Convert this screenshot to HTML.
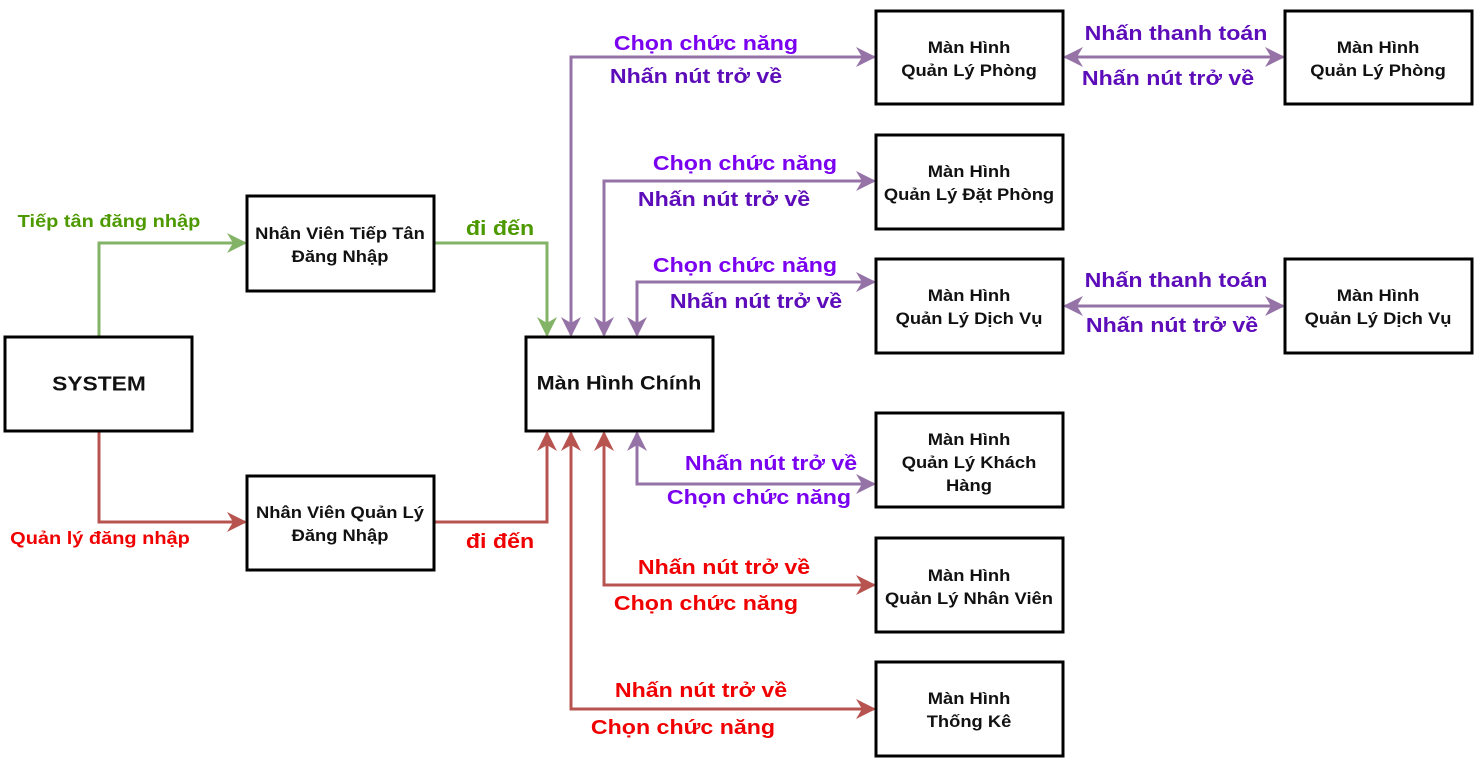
<!DOCTYPE html>
<html><head><meta charset="utf-8"><style>
html,body{margin:0;padding:0;background:#fff;width:1483px;height:764px;overflow:hidden}
svg text{font-family:"Liberation Sans","DejaVu Sans",sans-serif;font-weight:bold;dominant-baseline:central;text-anchor:middle}
.b{font-size:17px;fill:#111}
.l{font-size:20px}
.p{fill:#7a00f0}.pd{fill:#5c0cb8}.g{fill:#4d9900}.r{fill:#f00000}
rect{fill:#fff;stroke:#000;stroke-width:3}
.lp{stroke:#9673a6;stroke-width:3;fill:none}
.lg{stroke:#82b366;stroke-width:3;fill:none}
.lr{stroke:#b85450;stroke-width:3;fill:none}
</style></head><body>
<svg width="1483" height="764" xmlns="http://www.w3.org/2000/svg">
<defs>
<marker id="ap" markerWidth="20" markerHeight="20" refX="9" refY="5" orient="auto-start-reverse" markerUnits="userSpaceOnUse" viewBox="0 0 10 10"><path d="M0,0 L10,5 L0,10 L3,5z" fill="#9673a6"/></marker>
<marker id="ag" markerWidth="20" markerHeight="20" refX="9" refY="5" orient="auto-start-reverse" markerUnits="userSpaceOnUse" viewBox="0 0 10 10"><path d="M0,0 L10,5 L0,10 L3,5z" fill="#82b366"/></marker>
<marker id="ar" markerWidth="20" markerHeight="20" refX="9" refY="5" orient="auto-start-reverse" markerUnits="userSpaceOnUse" viewBox="0 0 10 10"><path d="M0,0 L10,5 L0,10 L3,5z" fill="#b85450"/></marker>
</defs>
<path class="lg" d="M99,337 V243 H245" marker-end="url(#ag)"/>
<path class="lg" d="M434,243 H547 V335" marker-end="url(#ag)"/>
<path class="lr" d="M99,431 V522 H245" marker-end="url(#ar)"/>
<path class="lr" d="M434,522 H547 V433" marker-end="url(#ar)"/>
<path class="lp" d="M571,335 V57 H874" marker-start="url(#ap)" marker-end="url(#ap)"/>
<path class="lp" d="M604,335 V181 H874" marker-start="url(#ap)" marker-end="url(#ap)"/>
<path class="lp" d="M637,335 V282 H874" marker-start="url(#ap)" marker-end="url(#ap)"/>
<path class="lp" d="M637,433 V484 H874" marker-start="url(#ap)" marker-end="url(#ap)"/>
<path class="lr" d="M604,433 V585 H874" marker-start="url(#ar)" marker-end="url(#ar)"/>
<path class="lr" d="M571,433 V709 H874" marker-start="url(#ar)" marker-end="url(#ar)"/>
<path class="lp" d="M1065,57 H1283" marker-start="url(#ap)" marker-end="url(#ap)"/>
<path class="lp" d="M1065,306 H1283" marker-start="url(#ap)" marker-end="url(#ap)"/>
<rect x="5" y="337" width="187" height="94"/>
<rect x="247" y="196" width="187" height="95"/>
<rect x="247" y="476" width="187" height="94"/>
<rect x="526" y="337" width="187" height="94"/>
<rect x="876" y="11" width="187" height="93"/>
<rect x="876" y="135" width="187" height="94"/>
<rect x="876" y="259" width="187" height="94"/>
<rect x="876" y="413" width="187" height="94"/>
<rect x="876" y="538" width="187" height="94"/>
<rect x="876" y="662" width="187" height="94"/>
<rect x="1285" y="11" width="187" height="93"/>
<rect x="1285" y="259" width="187" height="94"/>
<text class="b" transform="translate(99,384) scale(1.14,1)" style="font-size:20px">SYSTEM</text>
<text class="b" transform="translate(340,233) scale(1.08,1)">Nhân Viên Tiếp Tân</text><text class="b" transform="translate(340,256) scale(1.08,1)">Đăng Nhập</text>
<text class="b" transform="translate(340,512) scale(1.08,1)">Nhân Viên Quản Lý</text><text class="b" transform="translate(340,535) scale(1.08,1)">Đăng Nhập</text>
<text class="b" transform="translate(619,384) scale(1.14,1)" style="font-size:19px">Màn Hình Chính</text>
<text class="b" transform="translate(969,47) scale(1.08,1)">Màn Hình</text><text class="b" transform="translate(969,70) scale(1.08,1)">Quản Lý Phòng</text>
<text class="b" transform="translate(969,171) scale(1.08,1)">Màn Hình</text><text class="b" transform="translate(969,194) scale(1.08,1)">Quản Lý Đặt Phòng</text>
<text class="b" transform="translate(969,295) scale(1.08,1)">Màn Hình</text><text class="b" transform="translate(969,318) scale(1.08,1)">Quản Lý Dịch Vụ</text>
<text class="b" transform="translate(969,439) scale(1.08,1)">Màn Hình</text><text class="b" transform="translate(969,462) scale(1.08,1)">Quản Lý Khách</text><text class="b" transform="translate(969,485) scale(1.08,1)">Hàng</text>
<text class="b" transform="translate(969,575) scale(1.08,1)">Màn Hình</text><text class="b" transform="translate(969,598) scale(1.08,1)">Quản Lý Nhân Viên</text>
<text class="b" transform="translate(969,698) scale(1.08,1)">Màn Hình</text><text class="b" transform="translate(969,721) scale(1.08,1)">Thống Kê</text>
<text class="b" transform="translate(1378,47) scale(1.08,1)">Màn Hình</text><text class="b" transform="translate(1378,70) scale(1.08,1)">Quản Lý Phòng</text>
<text class="b" transform="translate(1378,295) scale(1.08,1)">Màn Hình</text><text class="b" transform="translate(1378,318) scale(1.08,1)">Quản Lý Dịch Vụ</text>
<text class="l g" transform="translate(109,222) scale(1.11,1)" style="font-size:18px">Tiếp tân đăng nhập</text>
<text class="l g" transform="translate(500,228) scale(1.16,1)">đi đến</text>
<text class="l r" transform="translate(100,539) scale(1.11,1)" style="font-size:18px">Quản lý đăng nhập</text>
<text class="l r" transform="translate(500,541) scale(1.16,1)">đi đến</text>
<text class="l p" transform="translate(706,43) scale(1.16,1)">Chọn chức năng</text>
<text class="l pd" transform="translate(696,76) scale(1.16,1)">Nhấn nút trở về</text>
<text class="l p" transform="translate(745,163) scale(1.16,1)">Chọn chức năng</text>
<text class="l pd" transform="translate(724,199) scale(1.16,1)">Nhấn nút trở về</text>
<text class="l p" transform="translate(745,265) scale(1.16,1)">Chọn chức năng</text>
<text class="l pd" transform="translate(756,301) scale(1.16,1)">Nhấn nút trở về</text>
<text class="l p" transform="translate(771,463) scale(1.16,1)">Nhấn nút trở về</text>
<text class="l p" transform="translate(759,497) scale(1.16,1)">Chọn chức năng</text>
<text class="l r" transform="translate(724,567) scale(1.16,1)">Nhấn nút trở về</text>
<text class="l r" transform="translate(706,603) scale(1.16,1)">Chọn chức năng</text>
<text class="l r" transform="translate(701,690) scale(1.16,1)">Nhấn nút trở về</text>
<text class="l r" transform="translate(683,727) scale(1.16,1)">Chọn chức năng</text>
<text class="l pd" transform="translate(1176,33) scale(1.16,1)">Nhấn thanh toán</text>
<text class="l pd" transform="translate(1168,78) scale(1.16,1)">Nhấn nút trở về</text>
<text class="l pd" transform="translate(1176,280) scale(1.16,1)">Nhấn thanh toán</text>
<text class="l pd" transform="translate(1172,325) scale(1.16,1)">Nhấn nút trở về</text>
</svg>
</body></html>
